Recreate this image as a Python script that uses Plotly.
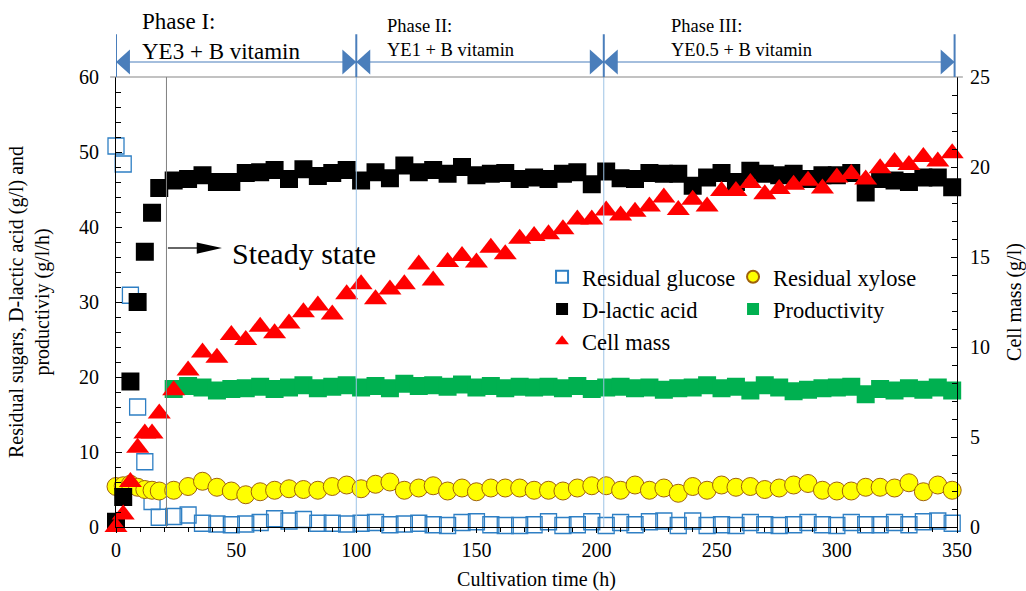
import plotly.graph_objects as go

# ---------------- data ----------------
time_early = [0, 3, 6, 9, 12, 15, 18]
time_ss = list(range(24, 349, 6))  # 24 .. 348 h
time_all = time_early + time_ss

glucose = [50.8, 48.4, 30.9, 16.0, 8.7, 3.4, 1.3,
           1.4, 1.6, 0.5, 0.4, 0.3, 0.4, 0.6, 1.1, 0.8, 1.0, 0.5, 0.5, 0.4, 0.5, 0.6, 0.3,
           0.4, 0.5, 0.3, 0.2, 0.6, 0.7, 0.3, 0.2, 0.2, 0.3, 0.7, 0.2, 0.3, 0.7, 0.2, 0.6,
           0.3, 0.7, 0.8, 0.2, 0.8, 0.2, 0.3, 0.2, 0.6, 0.3, 0.2, 0.3, 0.6, 0.3, 0.2, 0.6,
           0.3, 0.3, 0.6, 0.3, 0.7, 0.8, 0.5]

xylose = [5.4, 5.5, 5.7, 5.3, 5.0, 4.9, 4.8,
          4.9, 5.4, 6.1, 5.3, 4.8, 4.3, 4.7, 4.9, 5.1, 5.0, 4.9, 5.4, 5.6, 5.1, 5.7, 6.0,
          4.9, 5.2, 5.5, 4.8, 5.2, 4.7, 5.2, 5.2, 5.2, 4.9, 4.9, 4.8, 5.2, 5.5, 5.5, 4.9,
          5.6, 4.9, 5.2, 4.5, 5.4, 4.9, 5.6, 5.3, 5.4, 5.0, 5.2, 5.6, 5.8, 4.9, 4.8, 4.8,
          5.3, 5.3, 5.2, 5.9, 4.7, 5.6, 4.9]

lactic = [0.7, 4.0, 19.4, 30.0, 36.7, 41.9, 45.2,
          46.2, 46.4, 46.9, 46.0, 46.0, 47.2, 47.3, 47.6, 46.4, 47.7, 46.8, 47.2, 47.6, 46.2, 47.3, 46.5,
          48.2, 47.3, 47.6, 47.1, 48.0, 46.9, 47.1, 47.2, 46.4, 46.6, 46.4, 47.1, 47.3, 45.7, 47.4, 46.5,
          46.4, 47.2, 47.1, 47.1, 45.5, 46.6, 47.2, 46.0, 47.5, 47.1, 46.9, 47.1, 46.4, 46.9, 46.9, 47.2,
          44.6, 46.4, 46.2, 46.0, 46.6, 46.6, 45.3]

productivity = [18.4, 18.8, 18.6, 18.2, 18.4, 18.5, 18.7, 18.4, 18.6, 18.9, 18.5, 18.7, 18.9, 18.6,
                18.8, 18.5, 19.1, 18.8, 18.9, 18.7, 19.0, 18.6, 18.8, 18.5, 18.7, 18.6, 18.7, 18.5,
                18.8, 18.4, 18.6, 18.7, 18.5, 18.6, 18.3, 18.5, 18.6, 18.9, 18.5, 18.7, 18.2, 18.9,
                18.6, 18.1, 18.3, 18.5, 18.6, 18.7, 17.7, 18.4, 18.2, 18.5, 18.3, 18.6, 18.2]

cell_mass = [0.0, 0.7, 2.5, 4.4, 5.2, 5.2, 6.3,
             7.6, 8.7, 9.7, 9.4, 10.67, 10.39, 11.13, 10.76, 11.31, 11.93, 12.31, 11.81, 12.93, 13.48,
             12.65, 13.2, 13.48, 14.59, 13.7, 14.72, 15.06, 14.69, 15.52, 15.15, 16.02, 16.17, 16.26,
             16.54, 17.09, 17.09, 17.59, 17.31, 17.52, 17.8, 18.31, 17.61, 18.18, 17.81, 18.67, 18.67,
             19.11, 18.48, 18.78, 19.02, 19.24, 18.8, 19.41, 19.61, 19.3, 19.93, 20.28, 20.11, 20.56,
             20.3, 20.76]

phase_bounds = [0, 100, 203, 349]
phase_labels = ["Phase I:<br>YE3 + B vitamin", "Phase II:<br>YE1 + B vitamin", "Phase III:<br>YE0.5 + B vitamin"]
phase_label_x = [10, 112, 230]
phase_label_y = [1.0905, 1.086, 1.086]
steady_start = 21

FONT = "Liberation Serif"
BLUE = "#4A7EBB"

fig = go.Figure()
fig.add_trace(go.Scatter(x=time_all, y=glucose, mode="markers", name="Residual glucose",
                         legend="legend", cliponaxis=False,
                         marker=dict(symbol="square-open", size=16, color="#2E7FC4",
                                     line=dict(width=1.3, color="#2E7FC4"))))
fig.add_trace(go.Scatter(x=time_all, y=xylose, mode="markers", name="Residual xylose",
                         legend="legend2", cliponaxis=False,
                         marker=dict(symbol="circle", size=18, color="#FFFF00",
                                     line=dict(width=1, color="#A0620A"))))
fig.add_trace(go.Scatter(x=time_all, y=lactic, mode="markers", name="D-lactic acid",
                         legend="legend", cliponaxis=False,
                         marker=dict(symbol="square", size=18, color="#000000")))
fig.add_trace(go.Scatter(x=time_ss, y=productivity, mode="markers", name="Productivity",
                         legend="legend2", cliponaxis=False,
                         marker=dict(symbol="square", size=18, color="#00B050")))
fig.add_trace(go.Scatter(x=time_all, y=cell_mass, mode="markers", name="Cell mass",
                         legend="legend", yaxis="y2", cliponaxis=False,
                         marker=dict(symbol="triangle-up", size=20, color="#FF0000")))

shapes = []
# steady state start line
shapes.append(dict(type="line", xref="x", yref="paper", x0=steady_start, x1=steady_start,
                   y0=0, y1=1, line=dict(color="#808080", width=1)))
# light blue phase lines in plot
for b in phase_bounds[1:3]:
    shapes.append(dict(type="line", xref="x", yref="paper", x0=b, x1=b, y0=0, y1=1,
                       line=dict(color="#9DC3E6", width=1)))
# top border
shapes.append(dict(type="line", xref="paper", yref="paper", x0=-0.007, x1=1.007, y0=1, y1=1,
                   line=dict(color="#868686", width=1.2)))
# phase marker lines above plot
for b in phase_bounds:
    shapes.append(dict(type="line", xref="x", yref="paper", x0=b, x1=b, y0=1, y1=1.095,
                       line=dict(color=BLUE, width=2)))
ya = 1.0333
shapes.append(dict(type="line", xref="x", yref="paper", x0=phase_bounds[0], x1=phase_bounds[-1],
                   y0=ya, y1=ya, line=dict(color=BLUE, width=1.2)))
ah_len, ah_h = 5.8, 0.028
for i in range(3):
    s, e = phase_bounds[i], phase_bounds[i + 1]
    shapes.append(dict(type="path", xref="x", yref="paper",
                       path=f"M {s},{ya} L {s+ah_len},{ya+ah_h} L {s+ah_len},{ya-ah_h} Z",
                       fillcolor=BLUE, line=dict(width=0)))
    shapes.append(dict(type="path", xref="x", yref="paper",
                       path=f"M {e},{ya} L {e-ah_len},{ya+ah_h} L {e-ah_len},{ya-ah_h} Z",
                       fillcolor=BLUE, line=dict(width=0)))
# steady state arrow
shapes.append(dict(type="line", xref="x", yref="y", x0=21.6, x1=34, y0=37.2, y1=37.2,
                   line=dict(color="black", width=1.2)))
shapes.append(dict(type="path", xref="x", yref="y",
                   path="M 44.1,37.2 L 33.6,37.95 L 33.6,36.45 Z",
                   fillcolor="black", line=dict(width=0)))

annotations = []
for i, (lab, lx, ly) in enumerate(zip(phase_labels, phase_label_x, phase_label_y)):
    annotations.append(dict(x=lx, y=ly, xref="x", yref="paper", text=lab, showarrow=False,
                            xanchor="left", yanchor="middle", align="left",
                            font=dict(family=FONT, size=23 if i == 0 else 18.5, color="black")))
annotations.append(dict(x=47.5, y=36.5, xref="x", yref="y", text="Steady state", showarrow=False,
                        xanchor="left", yanchor="middle",
                        font=dict(family=FONT, size=30, color="black")))

axis_font = dict(family=FONT, size=20, color="black")
fig.update_layout(
    width=1026, height=591,
    margin=dict(l=116, r=69, t=77, b=64, autoexpand=False),
    paper_bgcolor="white", plot_bgcolor="white",
    font=dict(family=FONT, size=20, color="black"),
    shapes=shapes, annotations=annotations,
    xaxis=dict(range=[0, 350], dtick=50, tick0=0, showline=True, linecolor="black", linewidth=1.2,
               ticks="outside", ticklen=5, tickcolor="black", showgrid=False, zeroline=False,
               minor=dict(dtick=10, ticks="outside", ticklen=4, tickcolor="black"),
               tickfont=axis_font, automargin=False,
               title=dict(text="Cultivation time (h)", font=axis_font, standoff=12)),
    yaxis=dict(range=[0, 60], dtick=10, showline=True, linecolor="black", linewidth=1.2,
               ticks="inside", ticklen=6, tickcolor="black", showgrid=False, zeroline=False,
               minor=dict(dtick=2, ticks="inside", ticklen=5, tickcolor="black"),
               tickfont=axis_font, ticklabelstandoff=12, automargin=False,
               title=dict(text="Residual sugars, D-lactic acid (g/l) and<br>productiviy (g/l/h)",
                          font=axis_font, standoff=23)),
    yaxis2=dict(range=[0, 25], dtick=5, overlaying="y", side="right", showline=True,
                linecolor="black", linewidth=1.2, ticks="inside", ticklen=6, tickcolor="black",
                showgrid=False, zeroline=False, automargin=False,
                minor=dict(dtick=1, ticks="inside", ticklen=5, tickcolor="black"),
                tickfont=axis_font, ticklabelstandoff=8,
                title=dict(text="Cell mass (g/l)", font=axis_font, standoff=17)),
    legend=dict(x=0.5066, y=0.603, xanchor="left", yanchor="top", bgcolor="rgba(0,0,0,0)",
                font=dict(family=FONT, size=22.5, color="black"), itemsizing="constant",
                tracegroupgap=0),
    legend2=dict(x=0.7337, y=0.603, xanchor="left", yanchor="top", bgcolor="rgba(0,0,0,0)",
                 font=dict(family=FONT, size=22.5, color="black"), itemsizing="constant",
                 tracegroupgap=0),
)

fig.write_html("out.html")
